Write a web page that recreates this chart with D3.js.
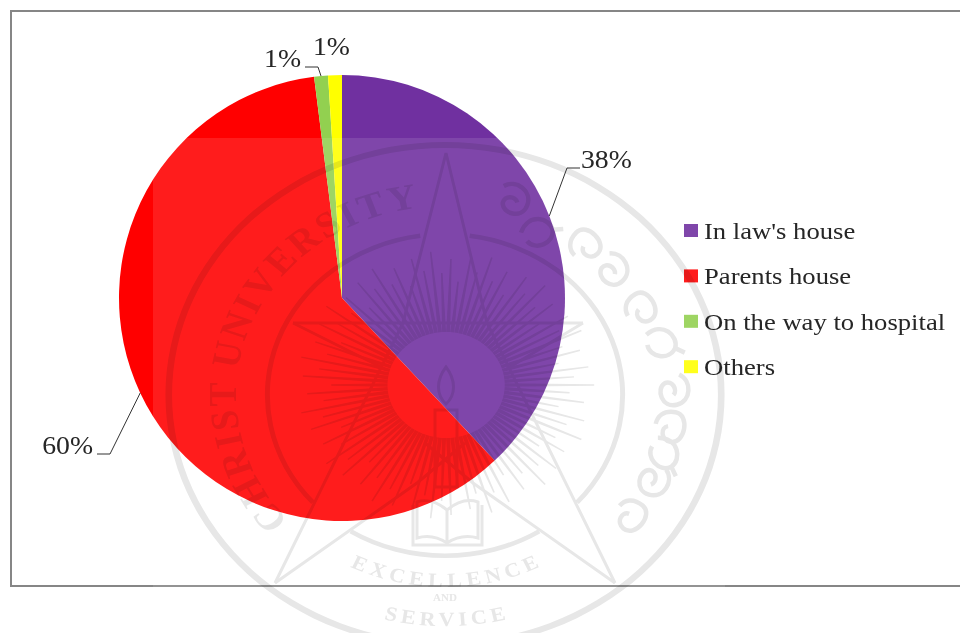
<!DOCTYPE html>
<html>
<head>
<meta charset="utf-8">
<script src="https://cdn.jsdelivr.net/npm/d3@7"></script>
<style>
  html, body { margin: 0; padding: 0; background: #fff; overflow: hidden; }
  svg { display: block; }
  text { font-family: "Liberation Serif", serif; fill: #262626; }
</style>
</head>
<body>
<div id="chart"></div>
<script>
// Place of delivery shares
const categories = ["In law's house", "Parents house", "On the way to hospital", "Others"];
const shares = [38, 60, 1, 1];
const sliceColors = ["#7030A0", "#FF0000", "#92D050", "#FFFF00"];

const width = 960, height = 633;
const cx = 342, cy = 298, radius = 223;
const labelSize = 25, legendSize = 24, textStretch = 1.11;

const svg = d3.select("#chart").append("svg")
  .attr("width", width).attr("height", height);

// Chart frame; its right side runs past the page edge
svg.append("rect")
  .attr("x", 11).attr("y", 11).attr("width", 960).attr("height", 575)
  .attr("fill", "#fff").attr("stroke", "#868686").attr("stroke-width", 2);

// Pie, clockwise from twelve o'clock
const pie = d3.pie().sort(null).value(d => d)(shares);
const arc = d3.arc().innerRadius(0).outerRadius(radius);
const pieLayer = svg.append("g").attr("transform", `translate(${cx},${cy})`);
pieLayer.selectAll("path").data(pie).join("path")
  .attr("d", arc)
  .attr("fill", (d, i) => sliceColors[i]);

// Legend swatches
const legendX = 684, legendY = 224, legendStep = 45.4;
svg.append("g").selectAll("rect").data(categories).join("rect")
  .attr("x", legendX)
  .attr("y", (d, i) => legendY + i * legendStep)
  .attr("width", 14).attr("height", 13)
  .attr("fill", (d, i) => sliceColors[i]);

// University seal printed across the page: a white haze with faint line work
svg.append("rect")
  .attr("x", 153).attr("y", 138).attr("width", 572).attr("height", 495)
  .attr("fill", "#fff").attr("fill-opacity", 0.11);

const defs = svg.append("defs");
defs.append("filter").attr("id", "sealSoft")
  .attr("x", "-5%").attr("y", "-5%").attr("width", "110%").attr("height", "110%")
  .append("feGaussianBlur").attr("stdDeviation", 0.7);

const sealColor = "#e7e7e7";
const seal = svg.append("g")
  .attr("filter", "url(#sealSoft)")
  .style("mix-blend-mode", "multiply");
const round = seal.append("g").attr("transform", "translate(445,395) scale(1.105,1)");
const rad = deg => deg * Math.PI / 180;
const ring = d3.arc();

// Outer ring, and inner ring broken where the star's points cross it
round.append("path").attr("fill", sealColor)
  .attr("d", ring({ innerRadius: 247, outerRadius: 253, startAngle: 0, endAngle: 2 * Math.PI }));
const innerRingSpans = [[8, 132], [148, 212], [228, 352]];
round.selectAll("path.inner").data(innerRingSpans).join("path")
  .attr("class", "inner").attr("fill", sealColor)
  .attr("d", s => ring({ innerRadius: 158.5, outerRadius: 163, startAngle: rad(s[0]), endAngle: rad(s[1]) }));

// Rays around the lamp's halo
const rayLengths = [134, 112, 126, 104, 130, 116];
const rays = round.append("g").attr("transform", "translate(1,-10)");
d3.range(0, 360, 4).forEach((deg, i) => {
  const a = rad(deg), r0 = 53, r1 = rayLengths[i % rayLengths.length];
  const px = Math.cos(a), py = Math.sin(a);
  rays.append("path").attr("fill", sealColor).attr("d",
    `M${px * r0 - py * 1.8},${py * r0 + px * 1.8}` +
    `L${px * r1 - py * 0.7},${py * r1 + px * 0.7}` +
    `L${px * r1 + py * 0.7},${py * r1 - px * 0.7}` +
    `L${px * r0 + py * 1.8},${py * r0 - px * 1.8}Z`);
});

// Star outline, lamp and book
const starLines = [
  "M275,583L403,323L446,153L487,323L615,583",
  "M293,323L583,323",
  "M615,583L473,483L425,443",
  "M275,583L417,483L465,443",
  "M293,323L387,370",
  "M583,323L505,370",
  "M446,367C436,380 436,395 446,404C456,395 456,380 446,367Z",
  "M435,410H457V487H435Z",
  "M447,510C436,501 425,499 417,502V538C427,535 438,537 447,543C456,537 467,535 478,538V502C469,499 458,501 447,510V543",
  "M413,505V545H482V505"
];
seal.append("g").selectAll("path").data(starLines).join("path")
  .attr("d", d => d).attr("fill", "none")
  .attr("stroke", sealColor).attr("stroke-width", 3);

// Curved lettering of the seal
const arcPath = (id, r, from, to, sweep) => {
  const p = deg => [r * Math.sin(rad(deg)), -r * Math.cos(rad(deg))];
  const [x0, y0] = p(from), [x1, y1] = p(to);
  defs.append("path").attr("id", id)
    .attr("d", `M${x0},${y0}A${r},${r} 0 0 ${sweep} ${x1},${y1}`);
};
arcPath("sealTop", 189, -132, -7, 1);
arcPath("sealMotto", 192, 212, 148, 0);
arcPath("sealService", 231, 196, 164, 0);

const sealText = (id, str, size, length) => {
  round.append("text")
    .style("fill", sealColor)
    .attr("font-size", size).attr("font-weight", "bold")
    .attr("text-anchor", "middle")
    .append("textPath")
    .attr("href", "#" + id)
    .attr("startOffset", "50%")
    .attr("textLength", length).attr("lengthAdjust", "spacing")
    .text(str);
};
sealText("sealTop", "CHRIST UNIVERSITY", 36, 410);
sealText("sealMotto", "EXCELLENCE", 20, 178);
sealText("sealService", "SERVICE", 20, 112);
round.append("text").attr("x", 0).attr("y", 206)
  .attr("text-anchor", "middle").attr("font-size", 10).attr("font-weight", "bold")
  .style("fill", sealColor).text("AND");

// Kannada motto band, drawn as brush strokes around the right of the ring
const brushShapes = [
  "M-12,-6C-6,-16 10,-14 12,-2C14,10 -2,14 -6,6C-8,0 0,-4 4,0",
  "M-10,8C-16,-8 0,-16 8,-10C16,-2 8,12 -2,10M8,-10L14,-16",
  "M-12,0C-12,-12 12,-12 12,0C12,8 2,10 0,4M-12,0C-12,10 -6,14 0,14"
];
const brushMarks = [
  [513, 200, 30, 0], [537, 233, 40, 1], [587, 243, 45, 2], [612, 270, 55, 0],
  [643, 307, 60, 2], [660, 343, 70, 1], [673, 390, 85, 0], [673, 427, 100, 2],
  [663, 453, 110, 1], [653, 480, 115, 0], [633, 517, 130, 2]
];
seal.append("g").selectAll("path.brush").data(brushMarks).join("path")
  .attr("class", "brush")
  .attr("transform", d => `translate(${d[0]},${d[1]}) rotate(${d[2]}) scale(1.25)`)
  .attr("d", d => brushShapes[d[3]])
  .attr("fill", "none").attr("stroke", sealColor).attr("stroke-width", 3.6);

// Leader lines run from each slice's outer edge to an elbow beside its label
const labelLayout = [
  { slice: 0, elbow: [567, 168], end: [580, 168], text: [581, 168], anchor: "start" },
  { slice: 1, elbow: [110, 454], end: [97, 454], text: [93, 454], anchor: "end" },
  { slice: 2, elbow: [318, 67], end: [305, 67], text: [301, 67], anchor: "end" },
  { slice: 3, text: [313, 55], anchor: "start" }
];
const leaderArc = d3.arc().innerRadius(radius).outerRadius(radius);
labelLayout.forEach(l => {
  const [ax, ay] = leaderArc.centroid(pie[l.slice]);
  if (l.elbow) {
    svg.append("polyline")
      .attr("points", [[ax + cx, ay + cy], l.elbow, l.end].join(" "))
      .attr("fill", "none").attr("stroke", "#333").attr("stroke-width", 1);
  }
  svg.append("text")
    .attr("transform", `translate(${l.text[0]},${l.text[1]}) scale(${textStretch},1)`)
    .attr("text-anchor", l.anchor).attr("font-size", labelSize)
    .text(shares[l.slice] + "%");
});

// Legend labels
svg.append("g").selectAll("text").data(categories).join("text")
  .attr("transform", (d, i) => `translate(704,${legendY + 15 + i * legendStep}) scale(${textStretch},1)`)
  .attr("font-size", legendSize)
  .text(d => d);
</script>
</body>
</html>
